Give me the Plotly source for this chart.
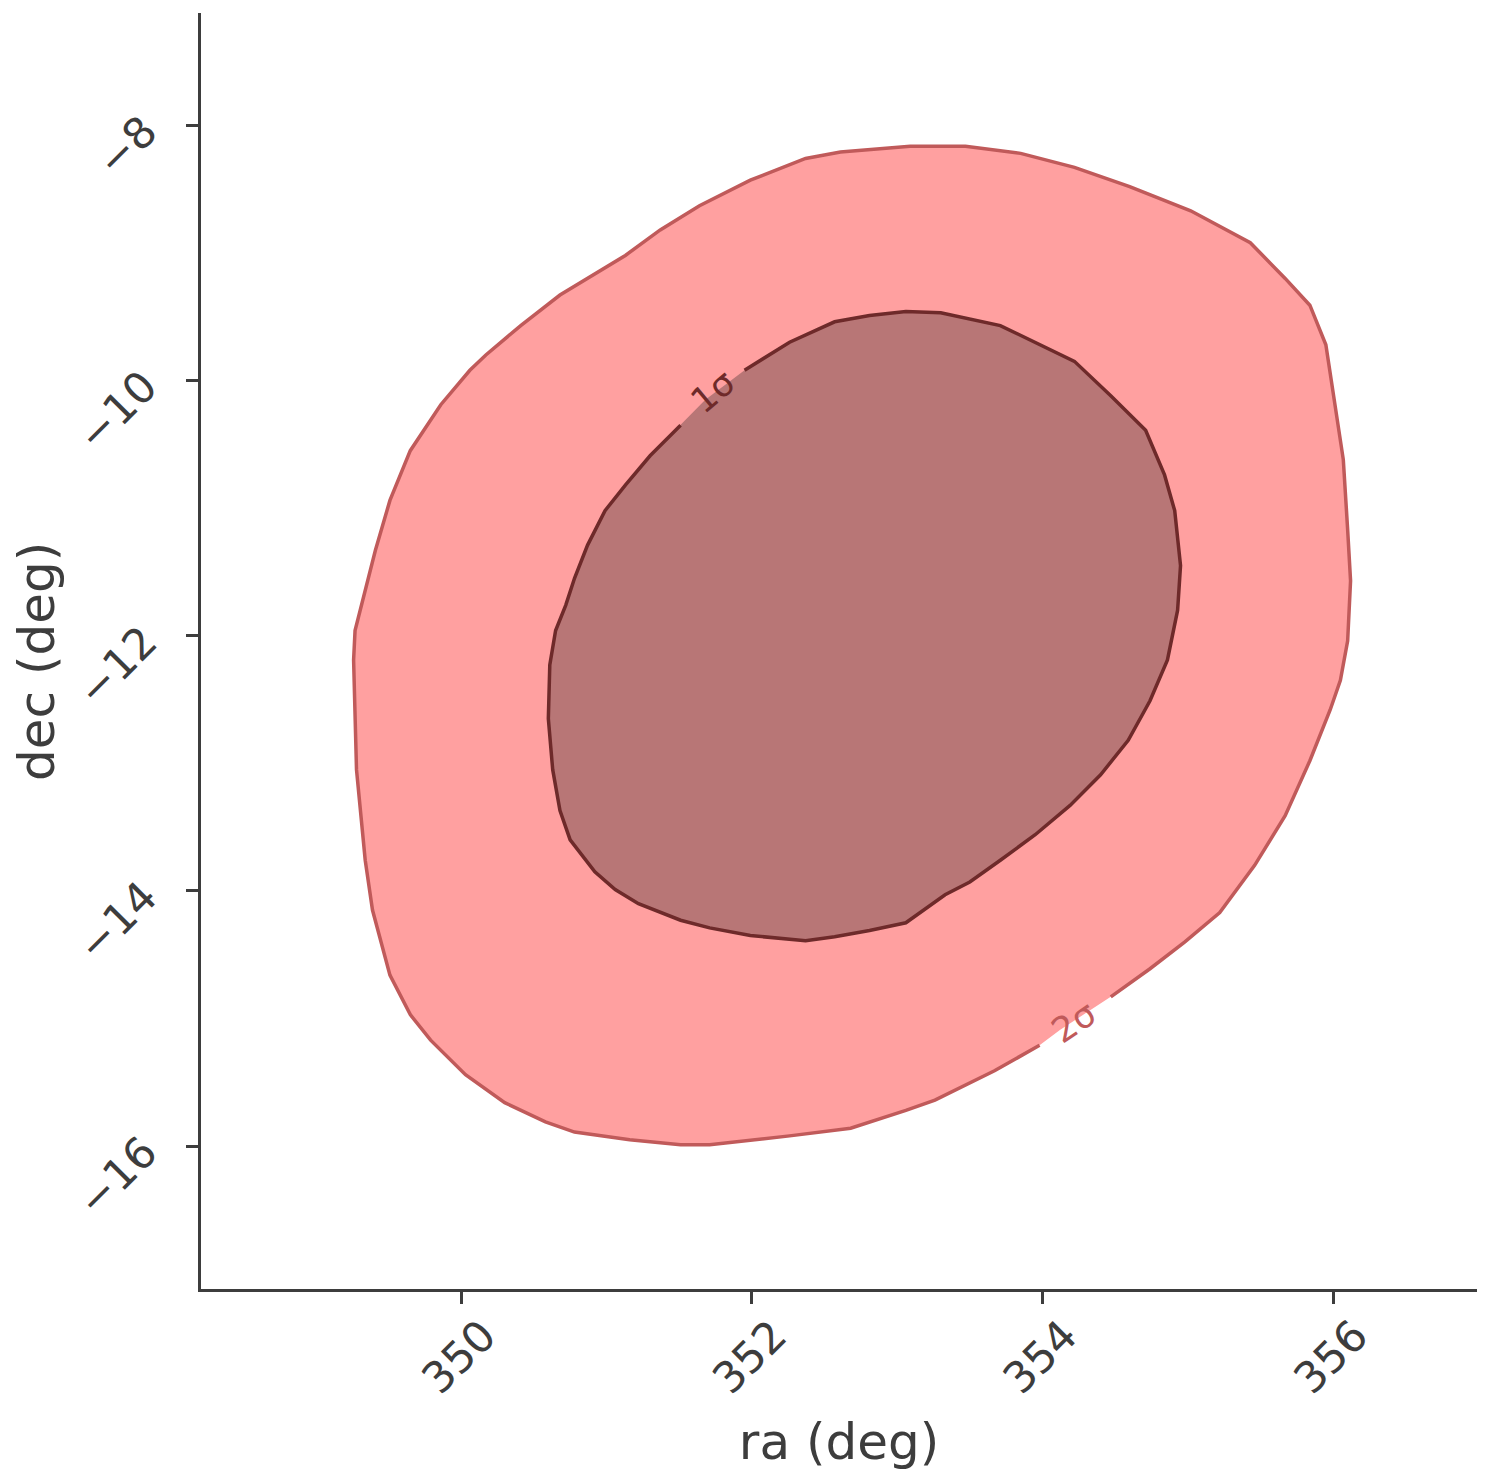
import plotly.graph_objects as go

# 2-sigma contour (outer), ra / dec in degrees
outer_ra = [352.92, 353.09, 353.47, 353.85, 354.22, 354.60, 355.02, 355.43, 355.67, 355.84,
            355.95, 356.01, 356.07, 356.10, 356.12, 356.10, 356.05, 355.98, 355.84, 355.67,
            355.46, 355.22, 354.98, 354.74, 354.47, 354.12, 353.98, 353.67, 353.26, 353.06,
            352.68, 352.26, 351.71, 351.51, 351.16, 350.78, 350.58, 350.30, 350.03, 349.79,
            349.65, 349.51, 349.39, 349.34, 349.28, 349.27, 349.26, 349.27, 349.34, 349.41,
            349.51, 349.65, 349.86, 350.06, 350.17, 350.41, 350.68, 350.96, 351.13, 351.37,
            351.64, 351.99, 352.37, 352.61]
outer_dec = [-8.18, -8.165, -8.165, -8.22, -8.33, -8.48, -8.67, -8.92, -9.20, -9.41,
             -9.72, -10.15, -10.62, -11.17, -11.57, -12.04, -12.35, -12.58, -12.98, -13.41,
             -13.80, -14.17, -14.40, -14.61, -14.83, -15.09, -15.21, -15.41, -15.64, -15.72,
             -15.86, -15.92, -15.99, -15.99, -15.95, -15.89, -15.81, -15.66, -15.44, -15.17,
             -14.97, -14.66, -14.15, -13.76, -13.05, -12.58, -12.19, -11.96, -11.64, -11.33,
             -10.94, -10.55, -10.19, -9.92, -9.80, -9.57, -9.33, -9.14, -9.02, -8.82,
             -8.63, -8.43, -8.26, -8.21]

# 1-sigma contour (inner)
inner_ra = [353.06, 353.30, 353.71, 353.98, 354.22, 354.47, 354.71, 354.84, 354.91, 354.95,
            354.93, 354.86, 354.74, 354.59, 354.40, 354.19, 353.95, 353.71, 353.50, 353.33,
            353.06, 352.81, 352.57, 352.37, 352.26, 351.99, 351.71, 351.51, 351.22, 351.06,
            350.92, 350.75, 350.68, 350.63, 350.60, 350.61, 350.65, 350.72, 350.78, 350.87,
            350.99, 351.13, 351.30, 351.51, 351.68, 351.95, 352.26, 352.57, 352.81]
inner_dec = [-9.46, -9.47, -9.57, -9.72, -9.85, -10.12, -10.39, -10.74, -11.02, -11.45,
             -11.80, -12.19, -12.51, -12.82, -13.09, -13.33, -13.56, -13.76, -13.93, -14.03,
             -14.25, -14.31, -14.36, -14.39, -14.38, -14.35, -14.29, -14.23, -14.10, -13.99,
             -13.85, -13.60, -13.37, -13.05, -12.65, -12.23, -11.96, -11.76, -11.55, -11.29,
             -11.02, -10.82, -10.59, -10.35, -10.15, -9.92, -9.70, -9.54, -9.49]

level_labels = ["1σ", "2σ"]
label_ra = [351.73, 354.22]
label_dec = [-10.09, -15.03]

x_ticks = [350, 352, 354, 356]
y_ticks = [-8, -10, -12, -14, -16]
x_title = "ra (deg)"
y_title = "dec (deg)"

TXT = "#3d3d3d"
OUTER_FILL = "#ffa0a0"
OUTER_LINE = "#c05a5a"
INNER_FILL = "#b87676"
INNER_LINE = "#6e2a2a"
FONT = "DejaVu Sans"

fig = go.Figure()
fig.add_trace(go.Scatter(x=outer_ra + outer_ra[:1], y=outer_dec + outer_dec[:1],
                         mode="lines", fill="toself", fillcolor=OUTER_FILL,
                         line=dict(width=0, color=OUTER_FILL), hoverinfo="skip", showlegend=False))
fig.add_trace(go.Scatter(x=outer_ra[26:] + outer_ra[:25], y=outer_dec[26:] + outer_dec[:25],
                         mode="lines", line=dict(width=3.5, color=OUTER_LINE),
                         hoverinfo="skip", showlegend=False))
fig.add_trace(go.Scatter(x=inner_ra + inner_ra[:1], y=inner_dec + inner_dec[:1],
                         mode="lines", fill="toself", fillcolor=INNER_FILL,
                         line=dict(width=0, color=INNER_FILL), hoverinfo="skip", showlegend=False))
fig.add_trace(go.Scatter(x=inner_ra[45:] + inner_ra[:44], y=inner_dec[45:] + inner_dec[:44],
                         mode="lines", line=dict(width=3.5, color=INNER_LINE),
                         hoverinfo="skip", showlegend=False))

for txt, lx, ly, ang, col in zip(level_labels, label_ra, label_dec, [-40, -34], [INNER_LINE, OUTER_LINE]):
    fig.add_annotation(x=lx, y=ly, text=txt, showarrow=False, textangle=ang,
                       font=dict(family=FONT, size=35, color=col))

# y-axis title placed as a rotated annotation (paper coords)
fig.add_annotation(xref="paper", yref="paper", x=-0.128, y=0.492, text=y_title,
                   showarrow=False, textangle=-90, xanchor="center", yanchor="middle",
                   font=dict(family=FONT, size=50, color=TXT))

axis_common = dict(showline=True, linecolor=TXT, linewidth=3, ticks="outside",
                   ticklen=12, tickwidth=3, tickcolor=TXT, showgrid=False, zeroline=False,
                   tickfont=dict(family=FONT, size=43, color=TXT), tickangle=-45)
fig.update_xaxes(range=[348.21, 356.99], tickvals=x_ticks, ticklabelshift=22, ticklabelstandoff=-11,
                 title=dict(text=x_title, font=dict(family=FONT, size=50, color=TXT), standoff=22),
                 **axis_common)
fig.update_yaxes(range=[-17.12, -7.12], tickvals=y_ticks, ticklabelstandoff=33, **axis_common)
# page body adds an 8px margin, so the figure is sized/offset to compensate
fig.update_layout(width=1474, height=1468, margin=dict(l=193, r=5, t=5, b=187),
                  plot_bgcolor="white", paper_bgcolor="white")
fig.write_html("out.html")
